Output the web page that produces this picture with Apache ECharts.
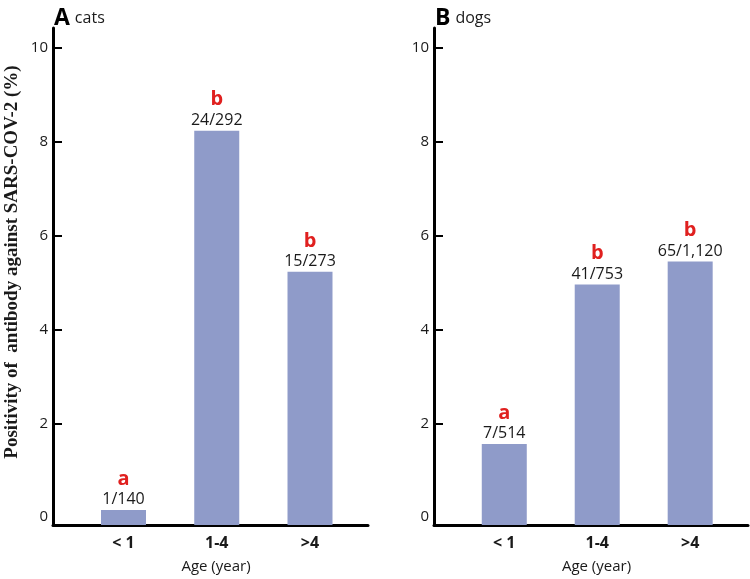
<!DOCTYPE html>
<html>
<head>
<meta charset="utf-8">
<script src="https://cdn.jsdelivr.net/npm/echarts@6/dist/echarts.min.js"></script>
<style>html,body{margin:0;padding:0;background:#fff}#c{width:750px;height:579px}</style>
</head>
<body>
<div id="c"></div>
<script>
const categories = ['< 1', '1-4', '>4'];
const catValues = [0.15, 8.24, 5.23];
const dogValues = [1.56, 4.96, 5.45];
const catCounts = ['1/140', '24/292', '15/273'];
const dogCounts = ['7/514', '41/753', '65/1,120'];
const catLetters = ['a', 'b', 'b'];
const dogLetters = ['a', 'b', 'b'];
const yLabelValues = [0, 2, 4, 6, 8, 10];
const yTickValues = [2, 4, 6, 8, 10];
const AXIS_FLOOR = -0.17;

const BAR_COLOR = '#8f9bc9';
const FONT = '"Open Sans", "Noto Sans", sans-serif';

const chart = echarts.init(document.getElementById('c'));

function xAxisCfg(gi) {
  return {
    gridIndex: gi, type: 'value', min: -0.756, max: 2.622,
    axisLine: { show: true, onZero: false, lineStyle: { color: '#000', width: 3 } },
    axisTick: { show: false },
    splitLine: { show: false },
    axisLabel: {
      customValues: [0, 1, 2],
      formatter: v => categories[Math.round(v)],
      fontFamily: FONT, fontWeight: 'bold', fontSize: 16, color: '#1a1a1a', margin: 10
    },
    name: 'Age (year)', nameLocation: 'middle', nameGap: 34,
    nameTextStyle: { fontFamily: FONT, fontSize: 15, color: '#1a1a1a', padding: [0, 0, 0, 11] }
  };
}
function yAxisCfg(gi) {
  return {
    gridIndex: gi, type: 'value', min: AXIS_FLOOR, max: 10.43,
    axisLine: { show: true, onZero: false, lineStyle: { color: '#000', width: 3 } },
    axisTick: { show: true, inside: true, length: 9, customValues: yTickValues, lineStyle: { color: '#000', width: 2 } },
    splitLine: { show: false },
    axisLabel: { customValues: yLabelValues, fontFamily: FONT, fontSize: 15, color: '#1a1a1a', margin: 5 }
  };
}
function barSeries(gi, values, counts, letters) {
  const style = { color: BAR_COLOR };
  return [
    {
      type: 'bar', xAxisIndex: gi, yAxisIndex: gi, stack: 's' + gi, barWidth: 45, silent: true,
      itemStyle: style,
      data: values.map((v, i) => [i, AXIS_FLOOR])
    },
    {
      type: 'bar', xAxisIndex: gi, yAxisIndex: gi, stack: 's' + gi, barWidth: 45,
      itemStyle: style,
      data: values.map((v, i) => [i, v]),
      label: {
        show: true, position: 'top', distance: 1,
        formatter: p => '{s|' + letters[p.dataIndex] + '}\n{f|' + counts[p.dataIndex] + '}',
        rich: {
          s: { fontFamily: FONT, fontWeight: 'bold', fontSize: 20, color: '#e0201f', lineHeight: 22, align: 'center' },
          f: { fontFamily: FONT, fontWeight: 'normal', fontSize: 16, color: '#1a1a1a', lineHeight: 19, align: 'center' }
        }
      }
    }
  ];
}

chart.setOption({
  animation: false,
  title: [
    { left: 49, top: 2, text: '{a|A} {b|cats}', textStyle: { fontWeight: 'normal', rich: {
      a: { fontFamily: FONT, fontWeight: 'bold', fontSize: 23, color: '#000' },
      b: { fontFamily: FONT, fontWeight: 'normal', fontSize: 16, color: '#1a1a1a' } } } },
    { left: 430, top: 2, text: '{a|B} {b|dogs}', textStyle: { fontWeight: 'normal', rich: {
      a: { fontFamily: FONT, fontWeight: 'bold', fontSize: 23, color: '#000' },
      b: { fontFamily: FONT, fontWeight: 'normal', fontSize: 16, color: '#1a1a1a' } } } }
  ],
  grid: [
    { left: 53, top: 28, width: 315, height: 499 },
    { left: 434, top: 28, width: 314, height: 499 }
  ],
  xAxis: [xAxisCfg(0), xAxisCfg(1)],
  yAxis: [yAxisCfg(0), yAxisCfg(1)],
  graphic: [{
    type: 'text', x: 12, y: 262, rotation: Math.PI / 2,
    style: {
      text: 'Positivity of  antibody against SARS-COV-2 (%)',
      font: 'bold 19px "Liberation Serif", "Times New Roman", serif',
      fill: '#1a1a1a', align: 'center', verticalAlign: 'middle'
    }
  }],
  series: [
    ...barSeries(0, catValues, catCounts, catLetters),
    ...barSeries(1, dogValues, dogCounts, dogLetters)
  ]
});
</script>
</body>
</html>
